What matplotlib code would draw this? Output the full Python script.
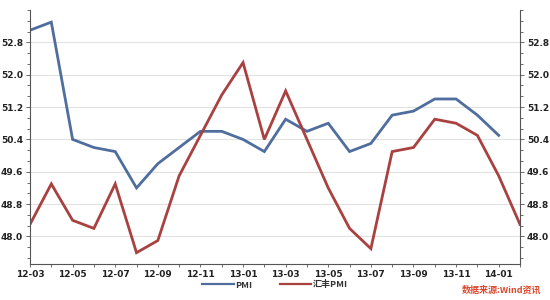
import matplotlib
matplotlib.use("Agg")
import matplotlib.pyplot as plt
from matplotlib.ticker import MultipleLocator
import numpy as np

plt.rcParams['font.family'] = ['Noto Sans CJK SC', 'DejaVu Sans']

months = ["12-03", "12-04", "12-05", "12-06", "12-07", "12-08", "12-09", "12-10",
          "12-11", "12-12", "13-01", "13-02", "13-03", "13-04", "13-05", "13-06",
          "13-07", "13-08", "13-09", "13-10", "13-11", "13-12", "14-01", "14-02"]
pmi = [53.1, 53.3, 50.4, 50.2, 50.1, 49.2, 49.8, 50.2, 50.6, 50.6, 50.4, 50.1,
       50.9, 50.6, 50.8, 50.1, 50.3, 51.0, 51.1, 51.4, 51.4, 51.0, 50.5]
hsbc = [48.3, 49.3, 48.4, 48.2, 49.3, 47.6, 47.9, 49.5, 50.5, 51.5, 52.3, 50.4,
        51.6, 50.4, 49.2, 48.2, 47.7, 50.1, 50.2, 50.9, 50.8, 50.5, 49.5, 48.3]
yticks = [48.0, 48.8, 49.6, 50.4, 51.2, 52.0, 52.8]

blue = "#4F6E9E"
red = "#A8413F"

fig = plt.figure(figsize=(5.5, 3.0), dpi=100)
ax = fig.add_axes([30/550, 36/300, 490/550, 254/300])

x_p = np.arange(len(pmi))
x_h = np.arange(len(hsbc))
ax.plot(x_p, pmi, color=blue, lw=2.0, label="PMI", solid_joinstyle="miter")
ax.plot(x_h, hsbc, color=red, lw=2.0, label="汇丰PMI", solid_joinstyle="miter")

ax.set_xlim(0, len(months) - 1)
ax.set_ylim(47.32, 53.6)

ax.set_xticks(np.arange(0, len(months), 2))
ax.set_xticklabels(months[::2], fontsize=6.5, fontweight="bold", family="DejaVu Sans")
ax.set_xticks(np.arange(1, len(months), 2), minor=True)

ax.set_yticks(yticks)
ax.set_yticklabels([f"{v:.1f}" for v in yticks], fontsize=6.5, fontweight="bold", family="DejaVu Sans")
ax.yaxis.set_minor_locator(MultipleLocator(0.8/3))

ax.tick_params(axis='y', which='both', left=True, right=True, labelleft=True, labelright=True,
               direction='out', length=3, width=0.6, color="#555555", pad=2, labelcolor="#222222")
ax.tick_params(axis='y', which='minor', length=2)
ax.tick_params(axis='x', which='both', direction='out', length=2, width=0.6, color="#555555",
               pad=2, labelcolor="#222222")

ax.grid(axis='y', which='major', color="#E2E2E2", lw=0.8)
ax.set_axisbelow(True)

ax.spines["top"].set_visible(False)
for s in ["left", "right", "bottom"]:
    ax.spines[s].set_color("#555555")
    ax.spines[s].set_linewidth(0.8)

leg = fig.legend(loc="center", bbox_to_anchor=(0.5, 0.05), ncol=2, frameon=False,
                 handlelength=3.5, columnspacing=3, handletextpad=0.2,
                 prop={'family': ['Noto Sans CJK SC', 'DejaVu Sans'], 'size': 6.5, 'weight': 'bold'})
for t in leg.get_texts():
    t.set_color("#333333")
for ln in leg.get_lines():
    ln.set_linewidth(1.6)

fig.text(0.985, 0.018, "数据来源:Wind资讯", color="#DB4A2E", fontsize=6.5, style="italic",
         fontweight="bold", ha="right", va="bottom")

fig.savefig("out.png", dpi=100)
